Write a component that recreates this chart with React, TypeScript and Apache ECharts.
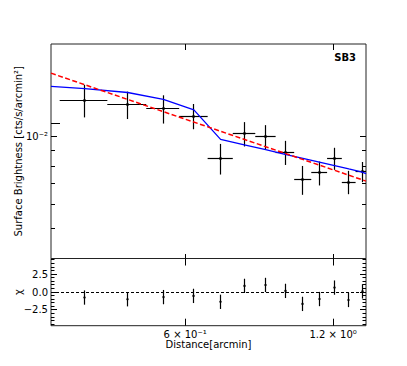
import React, { useEffect, useRef } from 'react';
import * as echarts from 'echarts';

// Axis extents
const X_MIN = 0.32;
const X_MAX = 1.4;
const SB_MIN = 0.004;
const SB_MAX = 0.02;
const CHI_MIN = -4.7;
const CHI_MAX = 4.7;

// Data (surface brightness profile)
const binCenters = [0.375, 0.4583, 0.5417, 0.625, 0.7083, 0.7917, 0.875, 0.9583, 1.0417, 1.125, 1.2083, 1.2917, 1.375];
const binHalfWidths = [0.0417, 0.0417, 0.0417, 0.0417, 0.0417, 0.0417, 0.0417, 0.0417, 0.0417, 0.0417, 0.0417, 0.0417, 0.0417];
const surfaceBrightness = [0.01313, 0.01269, 0.01231, 0.01165, 0.00848, 0.0102, 0.00998, 0.00887, 0.00723, 0.0076, 0.00848, 0.0071, 0.00767];
const sbErrors = [0.0016, 0.0013, 0.0013, 0.0011, 0.00097, 0.00093, 0.0009, 0.0008, 0.00078, 0.00068, 0.0007, 0.00062, 0.00058];

// Model (blue) and power-law fit (red dashed)
const modelX = [0.32, 0.375, 0.4583, 0.5417, 0.625, 0.7083, 0.7917, 0.875, 0.9583, 1.0417, 1.125, 1.2083, 1.2917, 1.375, 1.4];
const modelY = [0.01455, 0.0143, 0.0139, 0.0132, 0.0122, 0.00978, 0.00938, 0.00905, 0.00874, 0.00848, 0.00824, 0.00803, 0.00783, 0.00765, 0.00756];
const fitX = [0.32, 1.4];
const fitY = [0.01607, 0.00715];

// Residuals
const chi = [-0.76, -1.0, -0.7, -0.53, -1.36, 0.87, 1.0, 0.17, -1.65, -0.97, 0.63, -1.1, 0.1];
const chiErrors = [1, 1, 1, 1, 1, 1, 1, 1, 1, 1, 1, 1, 1];

// Ticks and labels
const xTickValues = [0.6, 1.2];
const xTickLabels = ['6 × 10\u207B\u00B9', '1.2 × 10\u2070'];
const sbMajorTicks = [0.01];
const sbMajorLabels = ['10\u207B\u00B2'];
const sbMinorTicks = [0.005, 0.006, 0.007, 0.008, 0.009];
const sbExtraTicks = [0.011];
const chiMajorTicks = [-2.5, 0, 2.5];
const chiMinorTicks = [-4.5, -4, -3.5, -3, -2, -1.5, -1, -0.5, 0.5, 1, 1.5, 2, 3, 3.5, 4, 4.5];

const FONT = 'DejaVu Sans';

const crisp = (v: number) => Math.round(v - 0.5) + 0.5;
const seg = (x1: number, y1: number, x2: number, y2: number, w = 1) => ({
  type: 'line',
  shape: { x1, y1, x2, y2 },
  style: { stroke: '#000', lineWidth: w },
});

function findLabel(values: number[], labels: string[], v: number) {
  for (let i = 0; i < values.length; i++) {
    if (Math.abs(values[i] - v) <= Math.abs(values[i]) * 1e-6 + 1e-9) return labels[i];
  }
  return '';
}

export default function App() {
  const ref = useRef<HTMLDivElement>(null);

  useEffect(() => {
    if (!ref.current) return;
    const chart = echarts.init(ref.current, undefined, { renderer: 'svg' });

    const sbData = binCenters.map((x, i) => [x, surfaceBrightness[i], binHalfWidths[i], sbErrors[i]]);
    const chiData = binCenters.map((x, i) => [x, chi[i], chiErrors[i]]);

    const option: any = {
      animation: false,
      backgroundColor: '#fff',
      textStyle: { fontFamily: FONT },
      grid: [
        { left: 51, width: 315, top: 44, height: 214.5, show: true, borderColor: '#222', borderWidth: 1, backgroundColor: 'transparent', containLabel: false, outerBoundsMode: 'none' },
        { left: 51, width: 315, top: 258.5, height: 67.2, show: true, borderColor: '#222', borderWidth: 1, backgroundColor: 'transparent', containLabel: false, outerBoundsMode: 'none' },
      ],
      xAxis: [
        {
          type: 'log', logBase: 10, gridIndex: 0, min: X_MIN, max: X_MAX,
          axisLine: { show: false }, axisTick: { show: false }, axisLabel: { show: false },
          splitLine: { show: false }, minorTick: { show: false },
        },
        {
          type: 'log', logBase: 10, gridIndex: 1, min: X_MIN, max: X_MAX,
          axisLine: { show: false }, axisTick: { show: false }, splitLine: { show: false },
          axisLabel: {
            show: true, customValues: xTickValues, margin: 4, color: '#000', fontSize: 10, fontFamily: FONT,
            formatter: (v: number) => findLabel(xTickValues, xTickLabels, v),
          },
          name: 'Distance[arcmin]', nameLocation: 'middle', nameGap: 14, nameMoveOverlap: false,
          nameTextStyle: { color: '#000', fontSize: 10, fontFamily: FONT },
        },
      ],
      yAxis: [
        {
          type: 'log', logBase: 10, gridIndex: 0, min: SB_MIN, max: SB_MAX,
          axisLine: { show: false }, axisTick: { show: false }, splitLine: { show: false },
          axisLabel: {
            show: true, customValues: sbMajorTicks, margin: 3, color: '#000', fontSize: 10, fontFamily: FONT,
            formatter: (v: number) => findLabel(sbMajorTicks, sbMajorLabels, v),
          },
          name: 'Surface Brightness [cts/s/arcmin\u00B2]', nameLocation: 'middle', nameGap: 28, nameMoveOverlap: false,
          nameTextStyle: { color: '#000', fontSize: 10, fontFamily: FONT },
        },
        {
          type: 'value', gridIndex: 1, min: CHI_MIN, max: CHI_MAX,
          axisLine: { show: false }, axisTick: { show: false }, splitLine: { show: false },
          axisLabel: {
            show: true, customValues: chiMajorTicks, margin: 3, color: '#000', fontSize: 10, fontFamily: FONT,
            formatter: (v: number) => (v < 0 ? '\u2212' + Math.abs(v).toFixed(1) : v.toFixed(1)),
          },
          name: '\u03C7', nameLocation: 'middle', nameGap: 28, nameMoveOverlap: false,
          nameTextStyle: { color: '#000', fontSize: 10, fontFamily: FONT },
        },
      ],
      graphic: [
        {
          type: 'text', right: 51, top: 52,
          style: { text: 'SB3', fontSize: 10, fontWeight: 'bold', fontFamily: FONT, fill: '#000' },
        },
      ],
      series: [
        // frame ticks of the top panel
        {
          type: 'custom', xAxisIndex: 0, yAxisIndex: 0, silent: true, z: 5,
          data: [[X_MIN, SB_MIN]],
          encode: { x: 0, y: 1 },
          renderItem: (_p: any, api: any) => {
            const children: any[] = [];
            const bl = api.coord([X_MIN, SB_MIN]);
            const tr = api.coord([X_MAX, SB_MAX]);
            const xL = bl[0], xR = tr[0], yB = bl[1], yT = tr[1];
            xTickValues.forEach((v) => {
              const x = crisp(api.coord([v, SB_MIN])[0]);
              children.push(seg(x, yT, x, yT + 6));
              children.push(seg(x, yB, x, yB - 4.5));
            });
            sbMajorTicks.forEach((v) => {
              const y = crisp(api.coord([X_MIN, v])[1]);
              children.push(seg(xL, y, xL + 6, y));
              children.push(seg(xR, y, xR - 6, y));
            });
            sbMinorTicks.forEach((v) => {
              const y = crisp(api.coord([X_MIN, v])[1]);
              children.push(seg(xL, y, xL + 4, y));
              children.push(seg(xR, y, xR - 4, y));
            });
            sbExtraTicks.forEach((v) => {
              const y = crisp(api.coord([X_MIN, v])[1]);
              children.push(seg(xL, y, xL + 9, y));
            });
            return { type: 'group', children };
          },
        },
        // data points with error bars
        {
          type: 'custom', xAxisIndex: 0, yAxisIndex: 0, silent: true, z: 2,
          data: sbData,
          encode: { x: 0, y: 1 },
          renderItem: (_p: any, api: any) => {
            const x = api.value(0), y = api.value(1), xe = api.value(2), ye = api.value(3);
            const c = api.coord([x, y]);
            const l = api.coord([Math.max(x - xe, X_MIN), y]);
            const r = api.coord([Math.min(x + xe, X_MAX), y]);
            const t = api.coord([x, y + ye]);
            const b = api.coord([x, y - ye]);
            const cx = crisp(c[0]);
            const cy = crisp(c[1]);
            return {
              type: 'group',
              children: [
                { type: 'line', shape: { x1: l[0], y1: cy, x2: r[0], y2: cy }, style: { stroke: '#000', lineWidth: 1.2 } },
                { type: 'line', shape: { x1: cx, y1: t[1], x2: cx, y2: b[1] }, style: { stroke: '#000', lineWidth: 1.2 } },
                { type: 'circle', shape: { cx, cy, r: 1.5 }, style: { fill: '#000' } },
              ],
            };
          },
        },
        // model
        {
          type: 'line', xAxisIndex: 0, yAxisIndex: 0, z: 3,
          data: modelX.map((x, i) => [x, modelY[i]]),
          showSymbol: false, symbol: 'none', silent: true,
          lineStyle: { color: '#0000ff', width: 1.3 },
        },
        // power-law fit
        {
          type: 'line', xAxisIndex: 0, yAxisIndex: 0, z: 4,
          data: fitX.map((x, i) => [x, fitY[i]]),
          showSymbol: false, symbol: 'none', silent: true,
          lineStyle: { color: '#ff0000', width: 1.5, type: [5, 2.5] },
        },
        // frame ticks of the residual panel
        {
          type: 'custom', xAxisIndex: 1, yAxisIndex: 1, silent: true, z: 5,
          data: [[X_MIN, 0]],
          encode: { x: 0, y: 1 },
          renderItem: (_p: any, api: any) => {
            const children: any[] = [];
            const bl = api.coord([X_MIN, CHI_MIN]);
            const tr = api.coord([X_MAX, CHI_MAX]);
            const xL = bl[0], xR = tr[0], yB = bl[1], yT = tr[1];
            xTickValues.forEach((v) => {
              const x = crisp(api.coord([v, 0])[0]);
              children.push(seg(x, yT, x, yT + 7));
              children.push(seg(x, yB, x, yB - 7));
            });
            chiMajorTicks.forEach((v) => {
              const y = crisp(api.coord([X_MIN, v])[1]);
              children.push(seg(xL, y, xL + 6, y));
              children.push(seg(xR, y, xR - 6, y));
            });
            chiMinorTicks.forEach((v) => {
              const y = crisp(api.coord([X_MIN, v])[1]);
              children.push(seg(xL, y, xL + 3.5, y));
              children.push(seg(xR, y, xR - 3.5, y));
            });
            return { type: 'group', children };
          },
        },
        // residuals
        {
          type: 'custom', xAxisIndex: 1, yAxisIndex: 1, silent: true, z: 3,
          data: chiData,
          encode: { x: 0, y: 1 },
          renderItem: (_p: any, api: any) => {
            const x = api.value(0), y = api.value(1), e = api.value(2);
            const c = api.coord([x, y]);
            const t = api.coord([x, y + e]);
            const b = api.coord([x, y - e]);
            const cx = crisp(c[0]);
            return {
              type: 'group',
              children: [
                { type: 'line', shape: { x1: cx, y1: t[1], x2: cx, y2: b[1] }, style: { stroke: '#000', lineWidth: 1.2 } },
                { type: 'circle', shape: { cx, cy: c[1], r: 1.2 }, style: { fill: '#000' } },
              ],
            };
          },
          markLine: {
            silent: true, symbol: 'none', label: { show: false },
            lineStyle: { color: '#000', width: 1, type: [3, 2] },
            data: [{ yAxis: 0 }],
          },
        },
      ],
    };

    chart.setOption(option);
    return () => chart.dispose();
  }, []);

  return <div ref={ref} style={{ width: 407, height: 366, position: 'absolute', left: 0, top: 0 }} />;
}
